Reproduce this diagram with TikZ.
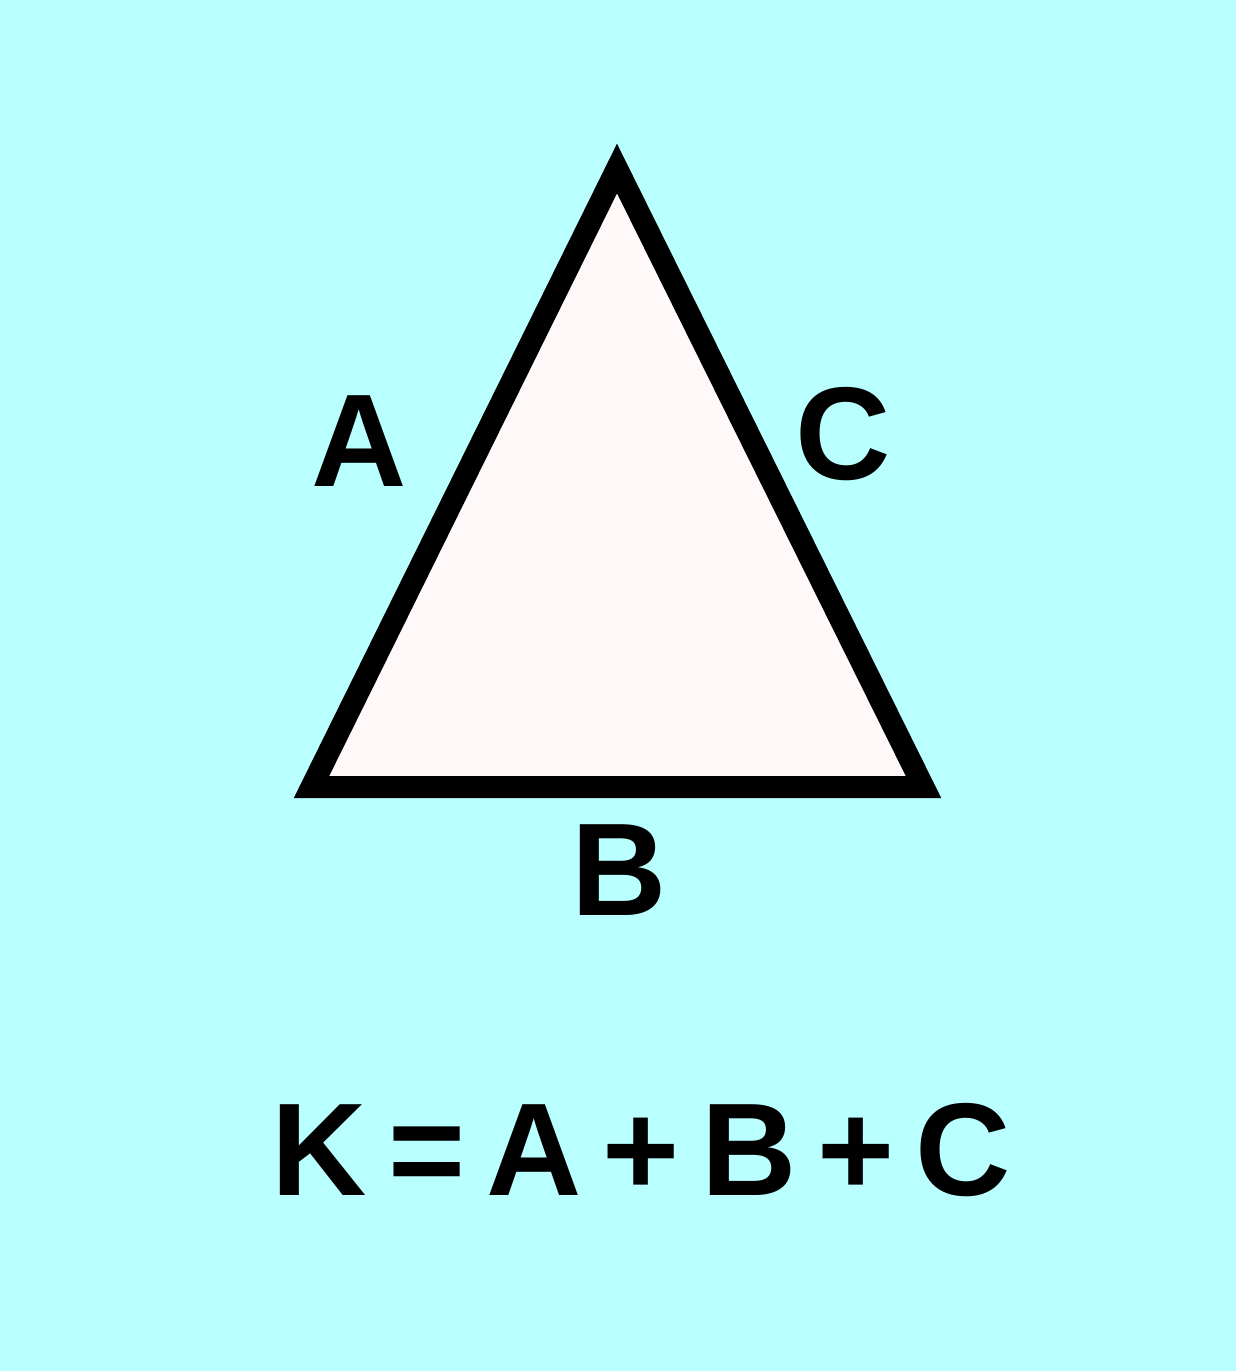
\documentclass[tikz,border=0pt]{standalone}
\usepackage{fontspec}
\setmainfont{Liberation Sans}
\definecolor{bg}{RGB}{185,255,255}
\definecolor{tri}{RGB}{255,248,248}
\begin{document}
\begin{tikzpicture}[x=0.5pt,y=-0.5pt,
  lbl/.style={font=\fontsize{66}{72}\selectfont\bfseries, inner sep=0pt, anchor=center}]
\fill[bg] (0,0) rectangle (1236,1371);
\useasboundingbox (0,0) rectangle (1236,1371);
\coordinate (top) at (617,168.5);
\coordinate (bl) at (311.5,787);
\coordinate (br) at (923.5,787);
\draw[line width=11pt, fill=tri, line join=miter, miter limit=10] (top) -- (bl) -- (br) -- cycle;
\node[lbl] (a) at (359,441) {A};
\node[lbl] (c) at (843,434) {C};
\node[lbl] (b) at (619,870) {B};
\node[lbl] (f) at (641.5,1150) {K\hspace{0.16em}=\hspace{0.16em}A\hspace{0.16em}+\hspace{0.16em}B\hspace{0.16em}+\hspace{0.16em}C};
\end{tikzpicture}
\end{document}
